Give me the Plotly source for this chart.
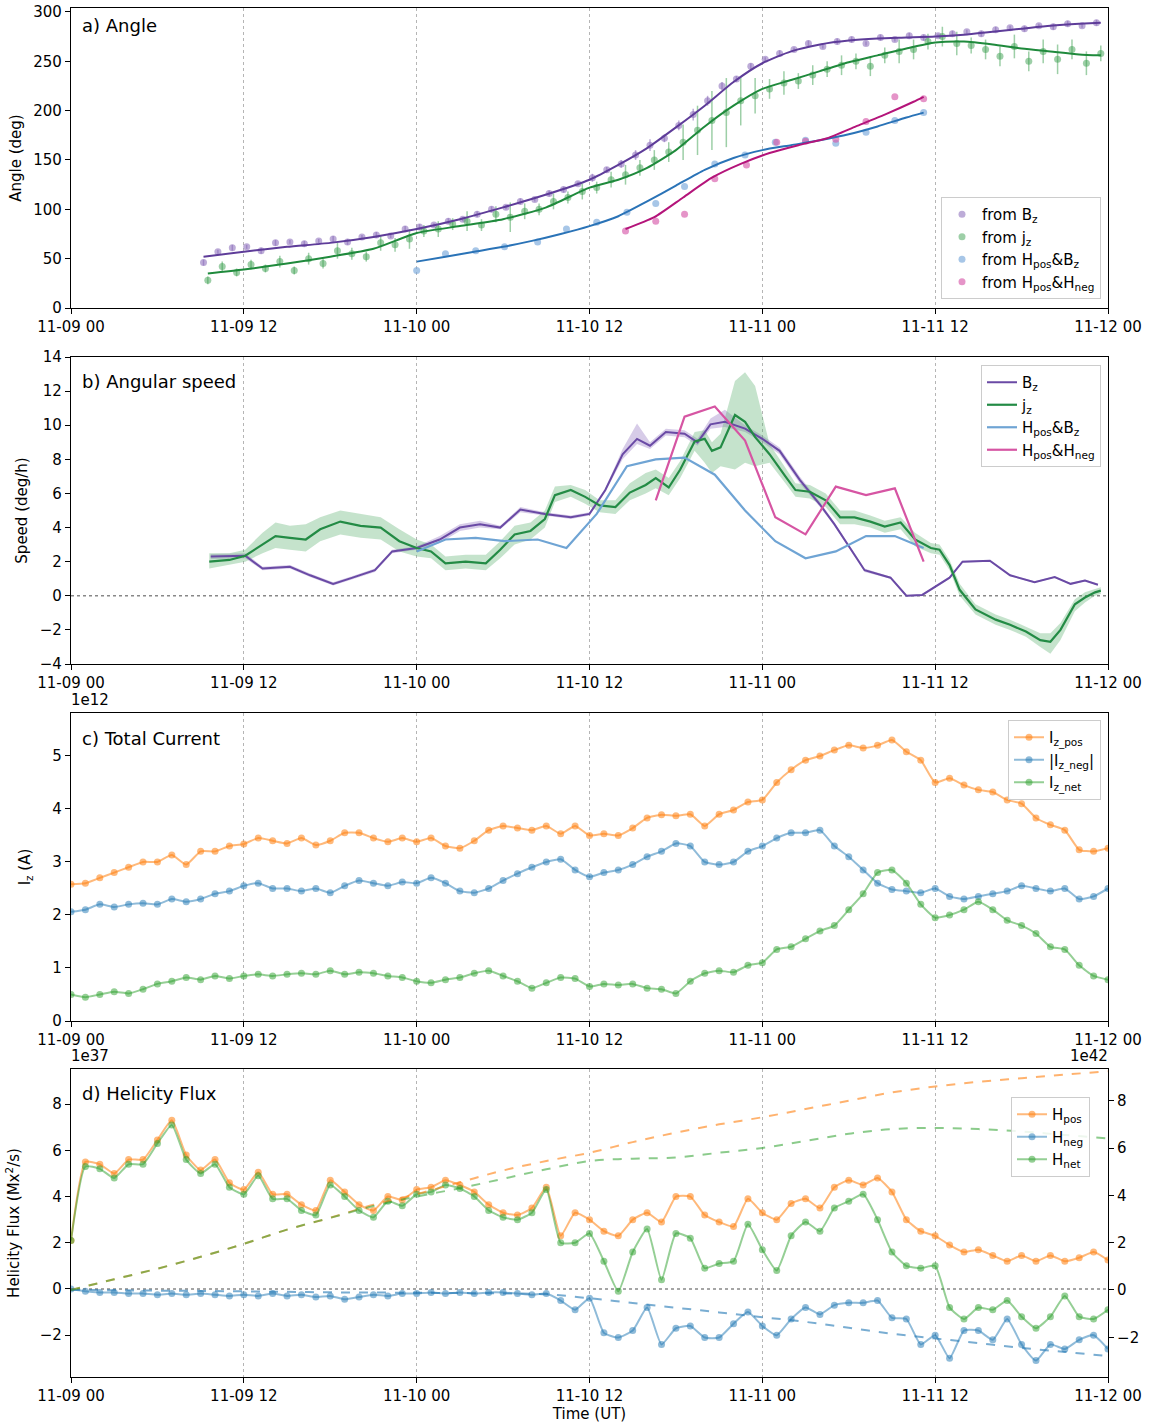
import plotly.graph_objects as go

# ---------------- Panel a: angle ----------------
bz_pt_t = [h + 0.2 for h in range(9, 72)]
bz_pt_v = [46, 57, 61, 62, 58, 66, 67, 65, 68, 70, 67, 72, 74, 73, 80, 82, 84, 88, 90, 95,
           100, 102, 108, 110, 116, 120, 126, 132, 140, 146, 155, 165, 172, 185, 196, 210, 225, 232, 245, 252,
           258, 262, 268, 265, 270, 272, 268, 274, 272, 276, 274, 276, 278, 280, 278, 282, 284, 283, 286, 285,
           288, 286, 289]
bz_pt_err = [3, 2, 3, 2, 3, 3, 2, 3, 2, 3, 3, 2, 3, 2, 3, 3, 2, 3, 2, 3,
             3, 2, 3, 2, 3, 3, 2, 4, 3, 4, 5, 6, 4, 5, 6, 5, 4, 3, 3, 2,
             3, 2, 3, 2, 3, 3, 2, 3, 2, 3, 3, 2, 3, 2, 3, 3, 2, 3, 2, 3,
             3, 2, 3]
jz_pt_t = [h + 0.5 for h in range(9, 72)]
jz_pt_v = [28, 42, 36, 44, 40, 47, 38, 50, 45, 58, 55, 52, 66, 64, 70, 78, 80, 85, 88, 84,
           95, 92, 98, 100, 108, 112, 118, 122, 130, 135, 142, 150, 158, 168, 180, 190, 198, 210, 215, 222,
           228, 230, 236, 242, 246, 250, 245, 256, 260, 262, 270, 275, 268, 266, 262, 255, 265, 250, 260, 252,
           262, 248, 258]
jz_pt_err = [4, 5, 4, 5, 4, 6, 4, 6, 5, 8, 6, 5, 8, 7, 10, 6, 8, 6, 10, 6,
             8, 15, 8, 6, 8, 6, 8, 6, 8, 10, 8, 10, 10, 18, 25, 30, 35, 25, 18, 10,
             12, 8, 10, 8, 10, 8, 10, 8, 12, 10, 8, 10, 12, 8, 10, 10, 12, 10, 12, 15,
             10, 12, 8]
hb_pt_t = [24.0, 26.0, 28.1, 30.1, 32.4, 34.4, 36.5, 38.6, 40.6, 42.6, 44.7, 46.8, 48.9, 51.0, 53.1, 55.2, 57.2, 59.2]
hb_pt_v = [38, 55, 58, 62, 67, 80, 87, 97, 106, 123, 146, 155, 168, 170, 167, 178, 190, 198]
hh_pt_t = [38.5, 40.6, 42.6, 44.7, 46.9, 49.0, 51.0, 53.1, 55.2, 57.2, 59.2]
hh_pt_v = [78, 88, 95, 131, 145, 168, 169, 171, 189, 214, 212]

bz_fit_t = [9.2, 12, 15, 18, 21, 24, 27, 30, 33, 36, 38, 40, 42, 44, 46, 48, 50, 52, 54, 56, 58, 60, 62, 64, 66, 68, 70, 71.5]
bz_fit_v = [52, 57, 62, 66, 72, 80, 90, 102, 115, 130, 145, 162, 183, 205, 229, 248, 260, 267, 271, 273, 274, 275, 277, 280, 283, 286, 288, 289]
jz_fit_t = [9.5, 12, 15, 18, 21, 24, 27, 30, 33, 36, 38, 40, 42, 44, 46, 48, 50, 52, 54, 56, 58, 60, 62, 64, 66, 68, 70, 71.5]
jz_fit_v = [35, 39, 45, 52, 60, 76, 83, 90, 102, 122, 130, 142, 160, 184, 205, 222, 231, 240, 249, 256, 263, 269, 270, 267, 263, 260, 257, 256]
hb_fit_t = [24, 26, 28, 30, 32, 34, 36, 38, 40, 42, 44, 46, 48, 50, 52, 54, 56, 58, 59.2]
hb_fit_v = [47, 52, 57, 62, 68, 75, 83, 93, 108, 124, 140, 152, 160, 165, 170, 176, 184, 193, 198]
hh_fit_t = [38.5, 40.5, 42.5, 44.5, 46.5, 48.5, 50.5, 52.5, 54.5, 56.5, 58.5, 59.2]
hh_fit_v = [80, 92, 112, 132, 146, 157, 165, 172, 184, 196, 209, 214]

# ---------------- Panel b: angular speed ----------------
bz_sp_t = [9.7, 12.1, 13.3, 15.2, 16.6, 18.2, 19.5, 21.1, 22.3, 24.0, 25.6, 27.0, 28.4, 29.8, 31.2, 32.9, 34.7, 36.0,
           37.1, 38.3, 39.3, 40.2, 41.3, 42.6, 43.5, 44.4, 45.4, 46.8, 48.0, 49.2, 50.6, 52.0, 53.0, 54.1, 55.1,
           56.9, 58.0, 59.1, 61.0, 61.9, 63.8, 65.2, 66.9, 68.3, 69.4, 70.4, 71.3]
bz_sp_v = [2.3, 2.35, 1.6, 1.7, 1.2, 0.7, 1.05, 1.5, 2.6, 2.8, 3.3, 4.0, 4.2, 4.0, 5.06, 4.8, 4.6, 4.8,
           6.2, 8.3, 9.2, 8.8, 9.6, 9.5, 9.0, 10.05, 10.2, 9.8, 9.2, 8.5, 6.8, 5.35, 4.2, 2.8, 1.5,
           1.06, 0.0, 0.05, 1.06, 2.0, 2.06, 1.2, 0.8, 1.1, 0.7, 0.9, 0.65]
bz_sp_lo = [2.15, 2.2, 1.5, 1.6, 1.1, 0.6, 0.95, 1.4, 2.5, 2.7, 3.1, 3.8, 4.0, 3.9, 4.9, 4.7, 4.5, 4.7,
            6.1, 8.0, 8.9, 8.6, 9.4, 9.3, 8.8, 9.8, 9.9, 9.6, 9.0, 8.3, 6.6, 5.2, 4.1, 2.7, 1.4,
            1.0, -0.05, 0.0, 1.0, 1.95, 2.0, 1.15, 0.75, 1.05, 0.65, 0.85, 0.6]
bz_sp_hi = [2.45, 2.5, 1.7, 1.8, 1.3, 0.8, 1.15, 1.6, 2.7, 2.9, 3.5, 4.2, 4.4, 4.1, 5.2, 4.9, 4.7, 4.9,
            6.3, 8.6, 10.1, 9.0, 9.8, 9.7, 9.2, 10.4, 10.9, 10.0, 9.4, 8.7, 7.0, 5.5, 4.3, 2.9, 1.6,
            1.12, 0.05, 0.1, 1.12, 2.05, 2.1, 1.25, 0.85, 1.15, 0.75, 0.95, 0.7]

jz_sp_t = [9.6, 11.0, 12.1, 13.3, 14.2, 15.2, 16.3, 17.3, 18.7, 20.1, 21.5, 22.8, 24.0, 25.0, 26.0, 27.4, 28.8,
           29.8, 30.8, 31.9, 32.9, 33.6, 34.7, 35.7, 36.7, 37.8, 38.8, 39.9, 40.6, 41.5, 42.3, 43.3, 44.0,
           44.5, 45.1, 46.1, 46.8, 47.5, 48.5, 49.6, 50.3, 51.3, 52.4, 53.4, 54.4, 55.5, 56.5, 57.6, 58.6,
           59.7, 60.3, 61.0, 61.7, 62.8, 64.2, 65.2, 66.3, 67.3, 68.0, 68.7, 69.7, 70.4, 71.1, 71.5]
jz_sp_v = [2.0, 2.1, 2.35, 3.0, 3.5, 3.4, 3.3, 3.9, 4.35, 4.1, 4.0, 3.2, 2.8, 2.6, 1.9, 2.0, 1.9,
           2.7, 3.6, 3.8, 4.5, 5.9, 6.2, 5.8, 5.3, 5.2, 6.05, 6.5, 6.9, 6.35, 7.4, 9.05, 9.2,
           8.5, 8.7, 10.6, 10.2, 9.3, 8.3, 7.0, 6.2, 6.1, 5.6, 4.6, 4.6, 4.35, 4.06, 4.3, 3.3,
           2.8, 2.7, 1.8, 0.35, -0.8, -1.4, -1.7, -2.1, -2.6, -2.7, -2.0, -0.5, -0.1, 0.2, 0.3]
jz_sp_lo = [1.6, 1.8, 2.0, 2.5, 2.8, 2.7, 2.6, 3.2, 3.6, 3.4, 3.3, 2.6, 2.3, 2.2, 1.5, 1.6, 1.5,
            2.2, 3.0, 3.3, 4.0, 5.5, 5.8, 5.4, 4.9, 4.8, 5.6, 6.0, 6.3, 5.9, 6.9, 8.5, 7.8,
            7.2, 7.6, 7.4, 7.8, 7.6, 7.8, 6.6, 5.8, 5.7, 5.2, 4.2, 4.2, 4.0, 3.7, 3.9, 2.9,
            2.5, 2.4, 1.5, 0.0, -1.1, -1.7, -2.0, -2.4, -3.0, -3.4, -2.6, -0.9, -0.4, 0.0, 0.1]
jz_sp_hi = [2.5, 2.5, 2.7, 3.7, 4.3, 4.1, 4.2, 4.6, 5.0, 4.8, 4.6, 3.9, 3.3, 3.0, 2.3, 2.4, 2.4,
            3.2, 4.1, 4.3, 5.0, 6.4, 6.5, 6.2, 5.6, 5.6, 6.6, 7.2, 7.4, 6.9, 7.9, 9.6, 9.7,
            9.0, 9.5, 12.6, 13.1, 12.3, 8.9, 7.5, 6.6, 6.5, 6.0, 5.0, 5.0, 4.7, 4.4, 4.6, 3.7,
            3.1, 3.0, 2.1, 0.7, -0.5, -1.1, -1.4, -1.8, -2.2, -2.2, -1.6, -0.2, 0.2, 0.4, 0.5]

hb_sp_t = [24.0, 26.0, 28.1, 30.1, 32.4, 34.4, 36.5, 38.6, 40.6, 42.6, 44.7, 46.8, 48.9, 51.0, 53.1, 55.2, 57.2, 59.2]
hb_sp_v = [2.6, 3.3, 3.4, 3.2, 3.3, 2.8, 4.8, 7.6, 8.0, 8.1, 7.1, 5.0, 3.2, 2.2, 2.6, 3.5, 3.5, 2.8]
hh_sp_t = [40.6, 42.6, 44.7, 46.8, 48.9, 51.0, 53.1, 55.2, 57.2, 59.2]
hh_sp_v = [5.6, 10.5, 11.1, 9.1, 4.6, 3.6, 6.4, 5.9, 6.3, 2.0]

# ---------------- Panel c: total current (x1e12 A) ----------------
hours = list(range(0, 73))
iz_pos = [2.58, 2.6, 2.7, 2.8, 2.9, 3.0, 3.0, 3.13, 2.95, 3.2,
          3.2, 3.3, 3.34, 3.45, 3.4, 3.35, 3.45, 3.32, 3.4, 3.55,
          3.55, 3.45, 3.38, 3.45, 3.38, 3.45, 3.3, 3.26, 3.4, 3.6,
          3.68, 3.64, 3.6, 3.68, 3.53, 3.68, 3.5, 3.53, 3.5, 3.64,
          3.83, 3.89, 3.87, 3.9, 3.68, 3.9, 3.98, 4.13, 4.17, 4.5,
          4.74, 4.92, 5.0, 5.11, 5.2, 5.15, 5.2, 5.3, 5.08, 4.92,
          4.5, 4.58, 4.45, 4.36, 4.32, 4.17, 4.1, 3.83, 3.7, 3.6,
          3.23, 3.2, 3.26]
iz_neg = [2.06, 2.1, 2.2, 2.15, 2.2, 2.22, 2.2, 2.3, 2.25, 2.3,
          2.4, 2.45, 2.55, 2.6, 2.5, 2.5, 2.45, 2.5, 2.42, 2.55,
          2.65, 2.6, 2.55, 2.62, 2.6, 2.7, 2.6, 2.45, 2.42, 2.5,
          2.65, 2.78, 2.9, 3.0, 3.05, 2.85, 2.72, 2.8, 2.85, 2.95,
          3.1, 3.2, 3.35, 3.3, 3.0, 2.95, 3.0, 3.2, 3.3, 3.45,
          3.55, 3.55, 3.6, 3.3, 3.1, 2.85, 2.6, 2.48, 2.45, 2.42,
          2.5, 2.35, 2.3, 2.35, 2.4, 2.45, 2.55, 2.5, 2.45, 2.5,
          2.3, 2.35, 2.5]
iz_net = [0.5, 0.45, 0.5, 0.55, 0.52, 0.6, 0.7, 0.75, 0.82, 0.78,
          0.85, 0.8, 0.85, 0.88, 0.85, 0.88, 0.9, 0.88, 0.95, 0.88,
          0.92, 0.9, 0.85, 0.82, 0.75, 0.72, 0.78, 0.82, 0.9, 0.95,
          0.85, 0.75, 0.62, 0.72, 0.82, 0.8, 0.65, 0.7, 0.68, 0.7,
          0.62, 0.6, 0.52, 0.75, 0.9, 0.95, 0.92, 1.05, 1.1, 1.35,
          1.4, 1.55, 1.7, 1.8, 2.1, 2.4, 2.8, 2.85, 2.6, 2.2,
          1.95, 2.0, 2.1, 2.25, 2.1, 1.9, 1.8, 1.65, 1.4, 1.35,
          1.05, 0.85, 0.78]

# ---------------- Panel d: helicity flux (x1e37 Mx^2/s) ----------------
h_pos = [2.1, 5.5, 5.4, 5.0, 5.6, 5.6, 6.45, 7.3, 5.8, 5.15,
         5.6, 4.6, 4.3, 5.05, 4.1, 4.1, 3.65, 3.4, 4.7, 4.2,
         3.65, 3.4, 4.0, 3.85, 4.3, 4.4, 4.7, 4.5, 4.2, 3.65,
         3.3, 3.2, 3.5, 4.4, 2.3, 3.3, 3.0, 2.5, 2.3, 3.0,
         3.3, 2.9, 4.0, 4.0, 3.2, 2.9, 2.7, 3.9, 3.3, 3.0,
         3.7, 3.9, 3.5, 4.4, 4.7, 4.5, 4.8, 4.2, 3.0, 2.5,
         2.3, 1.9, 1.6, 1.7, 1.45, 1.2, 1.45, 1.2, 1.45, 1.2,
         1.35, 1.6, 1.25]
h_neg = [0.0, -0.1, -0.15, -0.15, -0.2, -0.2, -0.25, -0.2, -0.25, -0.2,
         -0.25, -0.3, -0.25, -0.3, -0.2, -0.3, -0.25, -0.35, -0.3, -0.45,
         -0.35, -0.25, -0.3, -0.2, -0.2, -0.15, -0.2, -0.15, -0.2, -0.15,
         -0.15, -0.2, -0.25, -0.2, -0.5, -0.9, -0.4, -1.9, -2.1, -1.8,
         -0.8, -2.4, -1.7, -1.6, -2.1, -2.1, -1.5, -1.0, -1.6, -2.0,
         -1.3, -0.8, -1.1, -0.7, -0.6, -0.6, -0.5, -1.25, -1.3, -2.4,
         -2.0, -3.0, -1.8, -1.8, -2.2, -1.3, -2.4, -3.1, -2.4, -2.6,
         -2.2, -2.0, -2.6]
h_net = [2.1, 5.3, 5.2, 4.8, 5.4, 5.4, 6.3, 7.1, 5.6, 5.0,
         5.4, 4.4, 4.1, 4.9, 3.9, 3.9, 3.4, 3.2, 4.5, 4.0,
         3.4, 3.1, 3.8, 3.6, 4.1, 4.2, 4.5, 4.35, 4.0, 3.4,
         3.1, 3.0, 3.3, 4.3, 2.0, 2.0, 2.4, 1.2, -0.1, 1.6,
         2.6, 0.4, 2.4, 2.2, 0.9, 1.1, 1.2, 2.8, 1.7, 0.8,
         2.3, 2.9, 2.5, 3.5, 3.8, 4.1, 3.0, 1.6, 1.0, 0.9,
         1.0, -0.8, -1.3, -0.8, -0.9, -0.5, -1.2, -1.7, -1.2, -0.3,
         -1.2, -1.3, -0.9]
# accumulated helicity (x1e42, right axis)
cum_t = list(range(0, 73, 3))
cum_pos = [0, 0.45, 0.9, 1.4, 1.95, 2.55, 3.05, 3.6, 4.05, 4.55, 5.05, 5.45, 5.8,
           6.25, 6.65, 7.0, 7.3, 7.65, 8.0, 8.35, 8.6, 8.8, 8.95, 9.1, 9.25]
cum_net = [0, 0.45, 0.9, 1.4, 1.95, 2.55, 3.05, 3.55, 3.95, 4.3, 4.7, 5.1, 5.45,
           5.55, 5.6, 5.8, 6.0, 6.3, 6.6, 6.8, 6.85, 6.8, 6.7, 6.55, 6.4]
cum_neg = [0, -0.01, -0.03, -0.04, -0.06, -0.08, -0.1, -0.11, -0.12, -0.13, -0.15, -0.18, -0.35,
           -0.55, -0.75, -0.95, -1.15, -1.35, -1.6, -1.85, -2.05, -2.25, -2.45, -2.62, -2.8]

tick_vals = [0, 12, 24, 36, 48, 60, 72]
tick_text = ['11-09 00', '11-09 12', '11-10 00', '11-10 12', '11-11 00', '11-11 12', '11-12 00']

# ---------------- styling ----------------
FONT = 'DejaVu Sans'
PURPLE_L, PURPLE_P = '#5e3c99', 'rgba(134,103,184,0.55)'
GREEN_L, GREEN_P = '#1f8a3c', 'rgba(60,160,80,0.5)'
BLUE_L, BLUE_P = '#2a73b7', 'rgba(120,168,218,0.65)'
MAG_L, MAG_P = '#b4147a', 'rgba(215,90,170,0.65)'
ORANGE_T = 'rgba(255,127,14,0.55)'
BLUE_T = 'rgba(31,119,180,0.5)'
GREEN_T = 'rgba(44,160,44,0.5)'

fig = go.Figure()

# panel a
fig.add_trace(go.Scatter(x=bz_pt_t, y=bz_pt_v, mode='markers', name='from B<sub>z</sub>',
                         marker=dict(color=PURPLE_P, size=7),
                         error_y=dict(type='data', array=bz_pt_err, color=PURPLE_P, thickness=1.5, width=0),
                         xaxis='x', yaxis='y', legend='legend'))
fig.add_trace(go.Scatter(x=jz_pt_t, y=jz_pt_v, mode='markers', name='from j<sub>z</sub>',
                         marker=dict(color=GREEN_P, size=7),
                         error_y=dict(type='data', array=jz_pt_err, color=GREEN_P, thickness=1.5, width=0),
                         xaxis='x', yaxis='y', legend='legend'))
fig.add_trace(go.Scatter(x=hb_pt_t, y=hb_pt_v, mode='markers', name='from H<sub>pos</sub>&B<sub>z</sub>',
                         marker=dict(color=BLUE_P, size=7), xaxis='x', yaxis='y', legend='legend'))
fig.add_trace(go.Scatter(x=hh_pt_t, y=hh_pt_v, mode='markers', name='from H<sub>pos</sub>&H<sub>neg</sub>',
                         marker=dict(color=MAG_P, size=7), xaxis='x', yaxis='y', legend='legend'))
for t, v, c in [(bz_fit_t, bz_fit_v, PURPLE_L), (jz_fit_t, jz_fit_v, GREEN_L),
                (hb_fit_t, hb_fit_v, BLUE_L), (hh_fit_t, hh_fit_v, MAG_L)]:
    fig.add_trace(go.Scatter(x=t, y=v, mode='lines', line=dict(color=c, width=2, shape='spline', smoothing=0.6),
                             showlegend=False, xaxis='x', yaxis='y'))

# panel b
fig.add_trace(go.Scatter(x=bz_sp_t, y=bz_sp_lo, mode='lines', line=dict(width=0), showlegend=False,
                         xaxis='x2', yaxis='y2', hoverinfo='skip'))
fig.add_trace(go.Scatter(x=bz_sp_t, y=bz_sp_hi, mode='lines', line=dict(width=0), fill='tonexty',
                         fillcolor='rgba(140,110,190,0.35)', showlegend=False, xaxis='x2', yaxis='y2', hoverinfo='skip'))
fig.add_trace(go.Scatter(x=jz_sp_t, y=jz_sp_lo, mode='lines', line=dict(width=0), showlegend=False,
                         xaxis='x2', yaxis='y2', hoverinfo='skip'))
fig.add_trace(go.Scatter(x=jz_sp_t, y=jz_sp_hi, mode='lines', line=dict(width=0), fill='tonexty',
                         fillcolor='rgba(90,175,110,0.35)', showlegend=False, xaxis='x2', yaxis='y2', hoverinfo='skip'))
fig.add_trace(go.Scatter(x=bz_sp_t, y=bz_sp_v, mode='lines', name='B<sub>z</sub>',
                         line=dict(color='#6a4aa5', width=2), xaxis='x2', yaxis='y2', legend='legend2'))
fig.add_trace(go.Scatter(x=jz_sp_t, y=jz_sp_v, mode='lines', name='j<sub>z</sub>',
                         line=dict(color='#238b45', width=2.2), xaxis='x2', yaxis='y2', legend='legend2'))
fig.add_trace(go.Scatter(x=hb_sp_t, y=hb_sp_v, mode='lines', name='H<sub>pos</sub>&B<sub>z</sub>',
                         line=dict(color='#6fa4d4', width=2.2), xaxis='x2', yaxis='y2', legend='legend2'))
fig.add_trace(go.Scatter(x=hh_sp_t, y=hh_sp_v, mode='lines', name='H<sub>pos</sub>&H<sub>neg</sub>',
                         line=dict(color='#d655a3', width=2.2), xaxis='x2', yaxis='y2', legend='legend2'))

# panel c
for v, c, n in [(iz_pos, ORANGE_T, 'I<sub>z_pos</sub>'), (iz_neg, BLUE_T, '|I<sub>z_neg</sub>|'),
                (iz_net, GREEN_T, 'I<sub>z_net</sub>')]:
    fig.add_trace(go.Scatter(x=hours, y=v, mode='lines+markers', name=n,
                             line=dict(color=c, width=2, shape='spline', smoothing=0.5),
                             marker=dict(color=c, size=7), xaxis='x3', yaxis='y3', legend='legend3'))

# panel d (right axis cumulative first)
for v, c in [(cum_pos, 'rgba(255,127,14,0.6)'), (cum_neg, 'rgba(31,119,180,0.6)'), (cum_net, 'rgba(44,160,44,0.55)')]:
    fig.add_trace(go.Scatter(x=cum_t, y=v, mode='lines', line=dict(color=c, width=2, dash='dash', shape='spline'),
                             showlegend=False, xaxis='x4', yaxis='y5'))
for v, c, n in [(h_pos, ORANGE_T, 'H<sub>pos</sub>'), (h_neg, BLUE_T, 'H<sub>neg</sub>'),
                (h_net, GREEN_T, 'H<sub>net</sub>')]:
    fig.add_trace(go.Scatter(x=hours, y=v, mode='lines+markers', name=n,
                             line=dict(color=c, width=2, shape='spline', smoothing=0.5),
                             marker=dict(color=c, size=7), xaxis='x4', yaxis='y4', legend='legend4'))

W, H = 1150, 1426
xdom = [71 / W, 1108 / W]


def ydom(top, bot):
    return [1 - bot / H, 1 - top / H]


tickfont = dict(family=FONT, size=15, color='black')
titlefont = dict(family=FONT, size=15, color='black')


def xax(anchor, title=None):
    d = dict(domain=xdom, anchor=anchor, range=[0, 72], tickvals=tick_vals, ticktext=tick_text,
             showgrid=True, gridcolor='#b5b5b5', griddash='dot', gridwidth=1,
             showline=True, mirror=True, linecolor='black', linewidth=1.2,
             ticks='outside', ticklen=5, tickcolor='black', zeroline=False, tickfont=tickfont,
             automargin=False)
    if title:
        d['title'] = dict(text=title, font=titlefont, standoff=2)
    return d


def yax(anchor, dom, rng, tv, title, standoff=8):
    return dict(domain=dom, anchor=anchor, range=rng, tickvals=tv, showgrid=False, zeroline=False,
                showline=True, mirror=True, linecolor='black', linewidth=1.2,
                ticks='outside', ticklen=5, tickcolor='black', tickfont=tickfont,
                title=dict(text=title, font=titlefont, standoff=standoff), automargin=False)


leg_common = dict(bgcolor='rgba(255,255,255,0.85)', bordercolor='#cccccc', borderwidth=1,
                  font=dict(family=FONT, size=15, color='black'), xanchor='right', traceorder='normal')

fig.update_layout(
    width=W, height=H, template='none', paper_bgcolor='white', plot_bgcolor='white',
    margin=dict(l=0, r=0, t=0, b=0), font=dict(family=FONT, size=15, color='black'),
    xaxis=xax('y'), xaxis2=xax('y2'), xaxis3=xax('y3'), xaxis4=xax('y4', 'Time (UT)'),
    yaxis=yax('x', ydom(8, 308), [0, 304], [0, 50, 100, 150, 200, 250, 300], 'Angle (deg)'),
    yaxis2=yax('x2', ydom(357, 664), [-4, 14], [-4, -2, 0, 2, 4, 6, 8, 10, 12, 14], 'Speed (deg/h)'),
    yaxis3=yax('x3', ydom(713, 1021), [0, 5.81], [0, 1, 2, 3, 4, 5], 'I<sub>z</sub> (A)', 18),
    yaxis4=yax('x4', ydom(1069, 1377), [-3.81, 9.52], [-2, 0, 2, 4, 6, 8], 'Helicity Flux (Mx<sup>2</sup>/s)', 16),
    yaxis5=dict(overlaying='y4', side='right', anchor='x4', range=[-3.68, 9.34], tickvals=[-2, 0, 2, 4, 6, 8],
                showgrid=False, zeroline=False, showline=True, linecolor='black', linewidth=1.2,
                ticks='outside', ticklen=5, tickcolor='black', tickfont=tickfont, automargin=False),
    legend=dict(x=1101 / W, y=1 - 299 / H, yanchor='bottom', **leg_common),
    legend2=dict(x=1101 / W, y=1 - 365 / H, yanchor='top', **leg_common),
    legend3=dict(x=1101 / W, y=1 - 720 / H, yanchor='top', **leg_common),
    legend4=dict(x=1090 / W, y=1 - 1097 / H, yanchor='top', **leg_common),
    showlegend=True,
)

# zero lines
for xr, yr in [('x2', 'y2'), ('x4', 'y4')]:
    fig.add_shape(type='line', xref=xr + ' domain', yref=yr, x0=0, x1=1, y0=0, y1=0,
                  line=dict(color='#888888', width=1.6, dash='dot'), layer='below')

# panel titles and offset labels
for text, ypix in [('a) Angle', 25), ('b) Angular speed', 382), ('c) Total Current', 738), ('d) Helicity Flux', 1093)]:
    fig.add_annotation(text=text, xref='paper', yref='paper', x=80 / W, y=1 - ypix / H, xanchor='left',
                       yanchor='middle', showarrow=False, font=dict(family=FONT, size=18, color='black'))
fig.add_annotation(text='1e12', xref='paper', yref='paper', x=69 / W, y=1 - 711 / H, xanchor='left',
                   yanchor='bottom', showarrow=False, font=dict(family=FONT, size=15, color='black'))
fig.add_annotation(text='1e37', xref='paper', yref='paper', x=69 / W, y=1 - 1067 / H, xanchor='left',
                   yanchor='bottom', showarrow=False, font=dict(family=FONT, size=15, color='black'))
fig.add_annotation(text='1e42', xref='paper', yref='paper', x=1110 / W, y=1 - 1067 / H, xanchor='right',
                   yanchor='bottom', showarrow=False, font=dict(family=FONT, size=15, color='black'))

fig.write_html('out.html')
